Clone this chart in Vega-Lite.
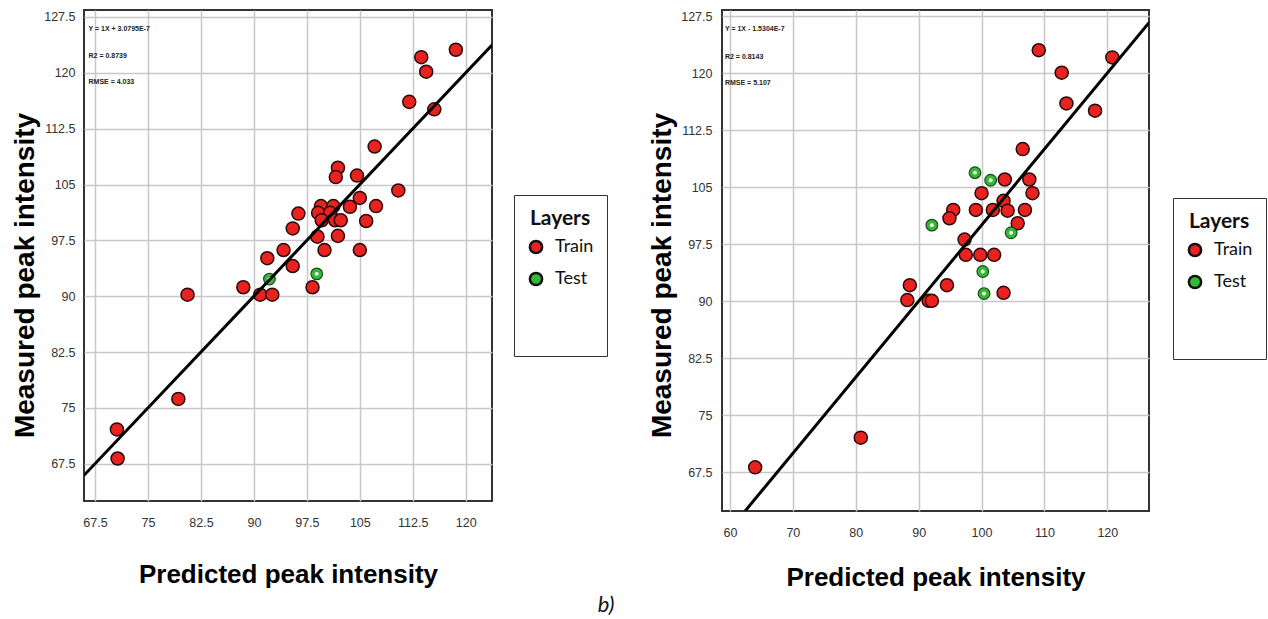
{
  "$schema": "https://vega.github.io/schema/vega-lite/v6.json",
  "padding": {"left": 10, "top": 9, "right": 0, "bottom": 0},
  "background": "white",
  "spacing": 38,
  "title": {"text": "b)", "orient": "bottom", "anchor": "middle", "dx": -33, "offset": 3, "font": "Lato", "fontStyle": "italic", "fontWeight": "normal", "fontSize": 22, "color": "#111"},
  "config": {
    "view": {"stroke": "#333", "strokeWidth": 2},
    "axis": {"grid": true, "gridColor": "#c8c8c8", "gridWidth": 1.5, "ticks": false, "domain": false, "labelFont": "Liberation Sans", "labelFontSize": 12.5, "labelColor": "#333", "titleFont": "Liberation Sans", "titleFontWeight": "bold", "titleColor": "#000"},
    "axisX": {"labelPadding": 15, "titleFontSize": 26},
    "axisY": {"labelPadding": 9, "titleFontSize": 28, "titlePadding": 4},
    "legend": {"orient": "none", "titleFont": "Lato", "titleFontSize": 21, "titleFontWeight": "bold", "titleColor": "#111", "titleAnchor": "middle", "titlePadding": 9, "labelFont": "Lato", "labelFontSize": 18, "labelColor": "#111", "symbolType": "circle", "symbolSize": 150, "symbolStrokeColor": "#111", "symbolStrokeWidth": 2.5, "strokeColor": "#333", "padding": 13, "rowPadding": 8, "labelOffset": 10}
  },
  "resolve": {"scale": {"x": "independent", "y": "independent", "color": "independent"}, "legend": {"color": "independent"}},
  "datasets": {
    "left": [
      {"pred": 118.6, "meas": 123.1, "layer": "Train"},
      {"pred": 113.7, "meas": 122.1, "layer": "Train"},
      {"pred": 114.4, "meas": 120.15, "layer": "Train"},
      {"pred": 112.0, "meas": 116.1, "layer": "Train"},
      {"pred": 115.55, "meas": 115.1, "layer": "Train"},
      {"pred": 107.1, "meas": 110.1, "layer": "Train"},
      {"pred": 101.9, "meas": 107.25, "layer": "Train"},
      {"pred": 101.6, "meas": 106.0, "layer": "Train"},
      {"pred": 104.6, "meas": 106.2, "layer": "Train"},
      {"pred": 110.45, "meas": 104.2, "layer": "Train"},
      {"pred": 105.0, "meas": 103.2, "layer": "Train"},
      {"pred": 107.3, "meas": 102.1, "layer": "Train"},
      {"pred": 103.6, "meas": 102.0, "layer": "Train"},
      {"pred": 96.3, "meas": 101.1, "layer": "Train"},
      {"pred": 99.5, "meas": 102.1, "layer": "Train"},
      {"pred": 101.25, "meas": 102.1, "layer": "Train"},
      {"pred": 99.1, "meas": 101.2, "layer": "Train"},
      {"pred": 100.8, "meas": 101.2, "layer": "Train"},
      {"pred": 99.6, "meas": 100.2, "layer": "Train"},
      {"pred": 101.5, "meas": 100.2, "layer": "Train"},
      {"pred": 102.3, "meas": 100.2, "layer": "Train"},
      {"pred": 105.9, "meas": 100.1, "layer": "Train"},
      {"pred": 95.5, "meas": 99.1, "layer": "Train"},
      {"pred": 99.0, "meas": 98.0, "layer": "Train"},
      {"pred": 101.9, "meas": 98.1, "layer": "Train"},
      {"pred": 94.2, "meas": 96.2, "layer": "Train"},
      {"pred": 100.0, "meas": 96.2, "layer": "Train"},
      {"pred": 105.0, "meas": 96.2, "layer": "Train"},
      {"pred": 91.9, "meas": 95.1, "layer": "Train"},
      {"pred": 95.5, "meas": 94.05, "layer": "Train"},
      {"pred": 98.3, "meas": 91.2, "layer": "Train"},
      {"pred": 88.5, "meas": 91.2, "layer": "Train"},
      {"pred": 90.9, "meas": 90.2, "layer": "Train"},
      {"pred": 92.6, "meas": 90.2, "layer": "Train"},
      {"pred": 80.6, "meas": 90.2, "layer": "Train"},
      {"pred": 79.3, "meas": 76.2, "layer": "Train"},
      {"pred": 70.6, "meas": 72.1, "layer": "Train"},
      {"pred": 70.7, "meas": 68.2, "layer": "Train"},
      {"pred": 98.9, "meas": 93.0, "layer": "Test"},
      {"pred": 92.2, "meas": 92.3, "layer": "Test"}
    ],
    "leftFit": [{"pred": 65.94, "meas": 65.94}, {"pred": 123.72, "meas": 123.72}],
    "leftStats": [
      {"label": "Y = 1X + 3.0795E-7", "pred": 66.58, "meas": 125.9},
      {"label": "R2 = 0.8739", "pred": 66.58, "meas": 122.26},
      {"label": "RMSE = 4.033", "pred": 66.58, "meas": 118.77}
    ],
    "right": [
      {"pred": 109.1, "meas": 123.0, "layer": "Train"},
      {"pred": 120.8, "meas": 122.05, "layer": "Train"},
      {"pred": 112.75, "meas": 120.05, "layer": "Train"},
      {"pred": 113.5, "meas": 116.0, "layer": "Train"},
      {"pred": 118.05, "meas": 115.05, "layer": "Train"},
      {"pred": 106.55, "meas": 110.0, "layer": "Train"},
      {"pred": 103.7, "meas": 106.0, "layer": "Train"},
      {"pred": 107.6, "meas": 106.0, "layer": "Train"},
      {"pred": 100.0, "meas": 104.2, "layer": "Train"},
      {"pred": 108.1, "meas": 104.2, "layer": "Train"},
      {"pred": 103.5, "meas": 103.2, "layer": "Train"},
      {"pred": 95.5, "meas": 102.0, "layer": "Train"},
      {"pred": 94.9, "meas": 100.9, "layer": "Train"},
      {"pred": 99.1, "meas": 102.0, "layer": "Train"},
      {"pred": 101.8, "meas": 102.0, "layer": "Train"},
      {"pred": 104.15, "meas": 101.9, "layer": "Train"},
      {"pred": 106.9, "meas": 102.0, "layer": "Train"},
      {"pred": 105.75, "meas": 100.25, "layer": "Train"},
      {"pred": 97.3, "meas": 98.1, "layer": "Train"},
      {"pred": 97.5, "meas": 96.1, "layer": "Train"},
      {"pred": 99.8, "meas": 96.1, "layer": "Train"},
      {"pred": 102.0, "meas": 96.1, "layer": "Train"},
      {"pred": 103.5, "meas": 91.1, "layer": "Train"},
      {"pred": 94.5, "meas": 92.1, "layer": "Train"},
      {"pred": 88.6, "meas": 92.1, "layer": "Train"},
      {"pred": 88.2, "meas": 90.15, "layer": "Train"},
      {"pred": 91.6, "meas": 90.05, "layer": "Train"},
      {"pred": 92.1, "meas": 90.05, "layer": "Train"},
      {"pred": 80.8, "meas": 72.05, "layer": "Train"},
      {"pred": 64.0, "meas": 68.15, "layer": "Train"},
      {"pred": 98.96, "meas": 106.9, "layer": "Test"},
      {"pred": 101.45, "meas": 105.9, "layer": "Test"},
      {"pred": 92.1, "meas": 100.0, "layer": "Test"},
      {"pred": 104.7, "meas": 99.0, "layer": "Test"},
      {"pred": 100.2, "meas": 93.9, "layer": "Test"},
      {"pred": 100.4, "meas": 91.0, "layer": "Test"}
    ],
    "rightFit": [{"pred": 62.41, "meas": 62.41}, {"pred": 126.63, "meas": 126.63}],
    "rightStats": [
      {"label": "Y = 1X - 1.5304E-7", "pred": 59.2, "meas": 125.75},
      {"label": "R2 = 0.8143", "pred": 59.2, "meas": 122.15},
      {"label": "RMSE = 5.107", "pred": 59.2, "meas": 118.65}
    ]
  },
  "hconcat": [
    {
      "width": 408,
      "height": 491,
      "encoding": {
        "x": {"field": "pred", "type": "quantitative", "scale": {"domain": [65.94, 123.72], "nice": false, "zero": false}, "axis": {"title": "Predicted peak intensity", "values": [67.5, 75, 82.5, 90, 97.5, 105, 112.5, 120], "format": ".1~f", "titlePadding": 33}},
        "y": {"field": "meas", "type": "quantitative", "scale": {"domain": [62.49, 128.44], "nice": false, "zero": false}, "axis": {"title": "Measured peak intensity", "values": [67.5, 75, 82.5, 90, 97.5, 105, 112.5, 120, 127.5], "format": ".1~f", "titleY": 265}}
      },
      "layer": [
        {"data": {"name": "leftStats"}, "mark": {"type": "text", "align": "left", "baseline": "middle", "font": "Liberation Sans", "fontSize": 7, "fontWeight": "bold", "color": "#222"}, "encoding": {"text": {"field": "label"}}},
        {"data": {"name": "left"}, "transform": [{"filter": "datum.layer === 'Train'"}], "mark": {"type": "point", "filled": true, "opacity": 1, "size": 170, "stroke": "#2b0a0a", "strokeWidth": 1.5},
          "encoding": {"color": {"field": "layer", "type": "nominal", "scale": {"domain": ["Train", "Test"], "range": ["#e8221e", "#35b835"]},
            "legend": {"title": "Layers", "legendX": 430, "legendY": 185, "values": ["Train", "Test", " ", "  "],
              "encoding": {"symbols": {
                "fillOpacity": {"condition": {"test": "datum.value === 'Train' || datum.value === 'Test'", "value": 1}, "value": 0},
                "strokeOpacity": {"condition": {"test": "datum.value === 'Train' || datum.value === 'Test'", "value": 1}, "value": 0}}}}}}},
        {"data": {"name": "left"}, "transform": [{"filter": "datum.layer === 'Test'"}], "mark": {"type": "point", "filled": true, "opacity": 1, "size": 135, "stroke": "#1a4a1a", "strokeWidth": 1.2},
          "encoding": {"color": {"field": "layer", "type": "nominal", "scale": {"domain": ["Train", "Test"], "range": ["#e8221e", "#35b835"]}}}},
        {"data": {"name": "left"}, "transform": [{"filter": "datum.layer === 'Test'"}], "mark": {"type": "point", "filled": true, "opacity": 1, "size": 15, "color": "white"}},
        {"data": {"name": "leftFit"}, "mark": {"type": "line", "color": "#000", "strokeWidth": 3, "clip": true}, "encoding": {}}
      ]
    },
    {
      "width": 427,
      "height": 501,
      "encoding": {
        "x": {"field": "pred", "type": "quantitative", "scale": {"domain": [58.73, 126.63], "nice": false, "zero": false}, "axis": {"title": "Predicted peak intensity", "values": [60, 70, 80, 90, 100, 110, 120], "format": ".1~f", "titlePadding": 26}},
        "y": {"field": "meas", "type": "quantitative", "scale": {"domain": [62.41, 128.29], "nice": false, "zero": false}, "axis": {"title": "Measured peak intensity", "values": [67.5, 75, 82.5, 90, 97.5, 105, 112.5, 120, 127.5], "format": ".1~f", "labelPadding": 10, "titleY": 265}}
      },
      "layer": [
        {"data": {"name": "rightStats"}, "mark": {"type": "text", "align": "left", "baseline": "middle", "font": "Liberation Sans", "fontSize": 7, "fontWeight": "bold", "color": "#222"}, "encoding": {"text": {"field": "label"}}},
        {"data": {"name": "right"}, "transform": [{"filter": "datum.layer === 'Train'"}], "mark": {"type": "point", "filled": true, "opacity": 1, "size": 170, "stroke": "#2b0a0a", "strokeWidth": 1.5},
          "encoding": {"color": {"field": "layer", "type": "nominal", "scale": {"domain": ["Train", "Test"], "range": ["#e8221e", "#35b835"]},
            "legend": {"title": "Layers", "legendX": 451, "legendY": 188, "values": ["Train", "Test", " ", "  "],
              "encoding": {"symbols": {
                "fillOpacity": {"condition": {"test": "datum.value === 'Train' || datum.value === 'Test'", "value": 1}, "value": 0},
                "strokeOpacity": {"condition": {"test": "datum.value === 'Train' || datum.value === 'Test'", "value": 1}, "value": 0}}}}}}},
        {"data": {"name": "right"}, "transform": [{"filter": "datum.layer === 'Test'"}], "mark": {"type": "point", "filled": true, "opacity": 1, "size": 135, "stroke": "#1a4a1a", "strokeWidth": 1.2},
          "encoding": {"color": {"field": "layer", "type": "nominal", "scale": {"domain": ["Train", "Test"], "range": ["#e8221e", "#35b835"]}}}},
        {"data": {"name": "right"}, "transform": [{"filter": "datum.layer === 'Test'"}], "mark": {"type": "point", "filled": true, "opacity": 1, "size": 15, "color": "white"}},
        {"data": {"name": "rightFit"}, "mark": {"type": "line", "color": "#000", "strokeWidth": 3, "clip": true}, "encoding": {}}
      ]
    }
  ]
}
